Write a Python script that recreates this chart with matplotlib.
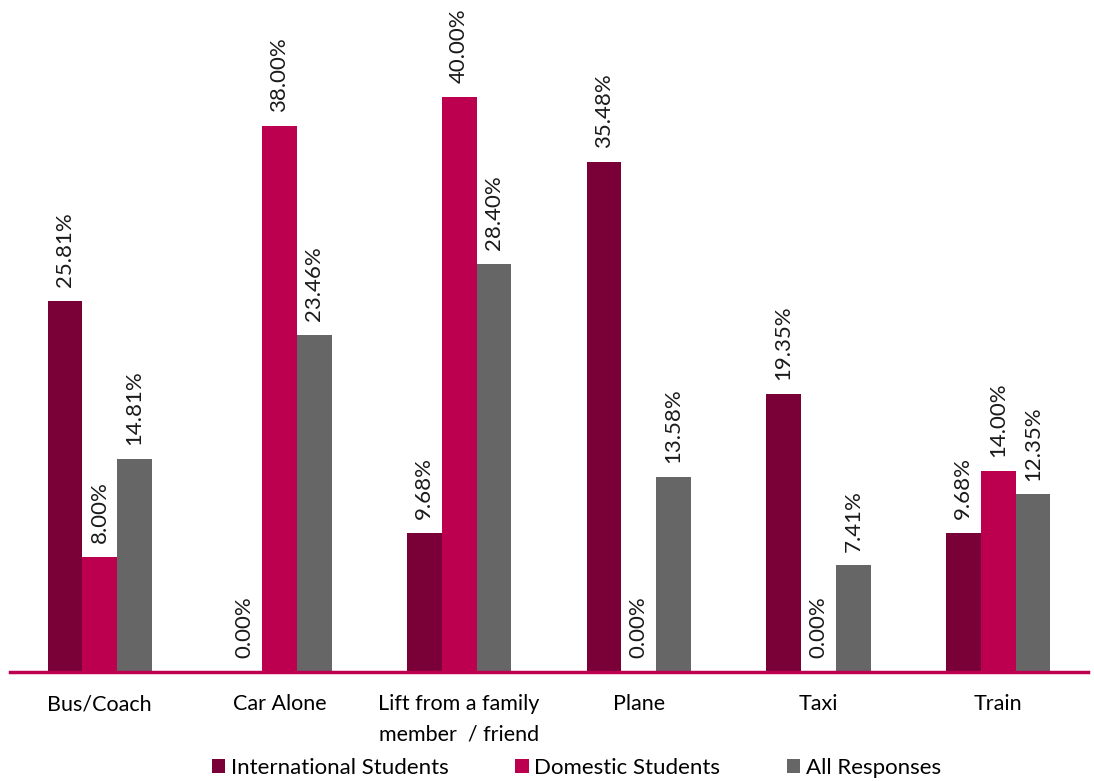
"""
Grouped bar chart of travel mode by student group.
"""

import matplotlib.pyplot as plt
import numpy as np

categories = [
    "Bus/Coach",
    "Car Alone",
    "Lift from a family\nmember  / friend",
    "Plane",
    "Taxi",
    "Train",
]
international = [25.81, 0.00, 9.68, 35.48, 19.35, 9.68]
domestic = [8.00, 38.00, 40.00, 0.00, 0.00, 14.00]
all_responses = [14.81, 23.46, 28.40, 13.58, 7.41, 12.35]

series = [
    ("International Students", international, "#7a0038"),
    ("Domestic Students", domestic, "#bc004f"),
    ("All Responses", all_responses, "#666666"),
]

plt.rcParams["font.family"] = ["Lato", "DejaVu Sans"]

fig = plt.figure(figsize=(10.94, 7.81), dpi=100)
ax = fig.add_axes([0.0091, 0.1396, 0.9854, 0.8604])

x = np.arange(len(categories))
width = 0.194

for i, (name, values, color) in enumerate(series):
    pos = x + (i - 1) * width
    bars = ax.bar(pos, values, width, color=color, label=name, zorder=2)
    for rect, v in zip(bars, values):
        ax.annotate(
            f"{v:.2f}%",
            (rect.get_x() + rect.get_width() / 2, v),
            xytext=(0, 10),
            textcoords="offset points",
            rotation=90,
            ha="center",
            va="bottom",
            fontsize=16,
            color="#1a1a1a",
        )

ax.set_xlim(-0.5, 5.5)
ax.set_ylim(0, 46.75)
ax.set_xticks(x)
ax.set_xticklabels(categories, fontsize=15.5, linespacing=1.65)
ax.tick_params(axis="x", length=0, pad=16)
ax.set_yticks([])

for side in ["top", "right", "left"]:
    ax.spines[side].set_visible(False)
ax.spines["bottom"].set_color("#bc004f")
ax.spines["bottom"].set_linewidth(2.5)
ax.spines["bottom"].set_zorder(3)

fig.legend(
    loc="lower center",
    bbox_to_anchor=(0.527, -0.022),
    ncol=3,
    frameon=False,
    fontsize=16,
    handlelength=0.6,
    handleheight=0.6,
    handletextpad=0.25,
    columnspacing=3.0,
)

fig.savefig("out.png")
